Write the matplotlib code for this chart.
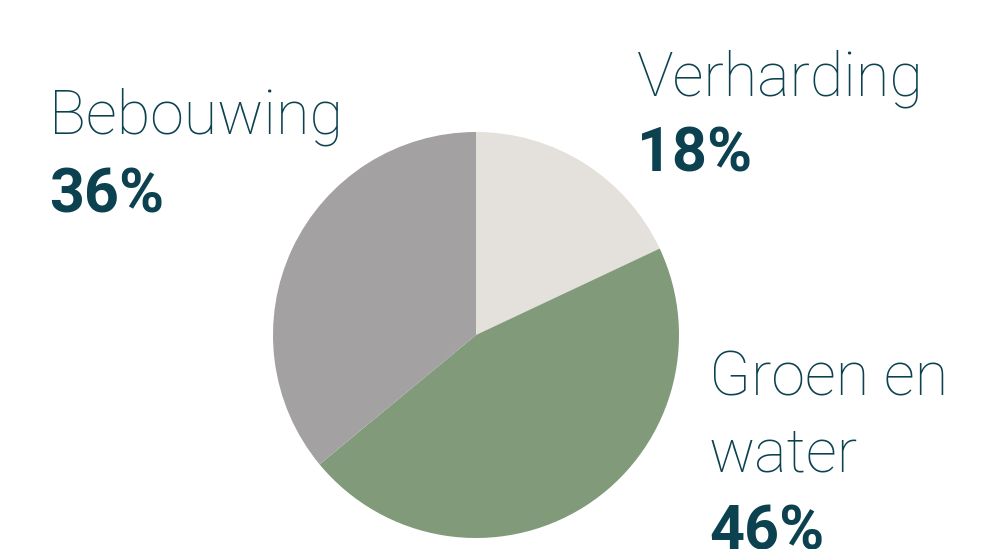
import matplotlib
matplotlib.use("Agg")
import matplotlib.pyplot as plt

labels = ["Verharding", "Groen en\nwater", "Bebouwing"]
values = [18, 46, 36]
colors = ["#E4E0DC", "#809A7A", "#A3A1A2"]
text_color = "#0C4250"

W, H = 993, 549
fig = plt.figure(figsize=(W / 100, H / 100), dpi=100)
fig.patch.set_facecolor("white")

cx, cy, r = 476, 335, 203
ax = fig.add_axes([(cx - r) / W, (H - cy - r) / H, 2 * r / W, 2 * r / H])
ax.pie(values, colors=colors, startangle=90, counterclock=False, radius=1,
       wedgeprops=dict(linewidth=0))
ax.set_xlim(-1, 1)
ax.set_ylim(-1, 1)
ax.set_aspect("equal")
ax.axis("off")

fs = 44
def txt(x, y_base, s, weight):
    fig.text(x / W, 1 - y_base / H, s, fontsize=fs, family="Roboto",
             fontweight=weight, color=text_color, va="baseline", ha="left")

# Verharding
txt(637, 95, labels[0], "light")
txt(637, 172, f"{values[0]}%", "bold")
# Bebouwing
txt(49, 134, labels[2], "light")
txt(49, 212, f"{values[2]}%", "bold")
# Groen en water (two lines)
name_lines = labels[1].split("\n")
txt(709, 395, name_lines[0], "light")
txt(709, 472, name_lines[1], "light")
txt(709, 549, f"{values[1]}%", "bold")

fig.savefig("out.png", dpi=100)
